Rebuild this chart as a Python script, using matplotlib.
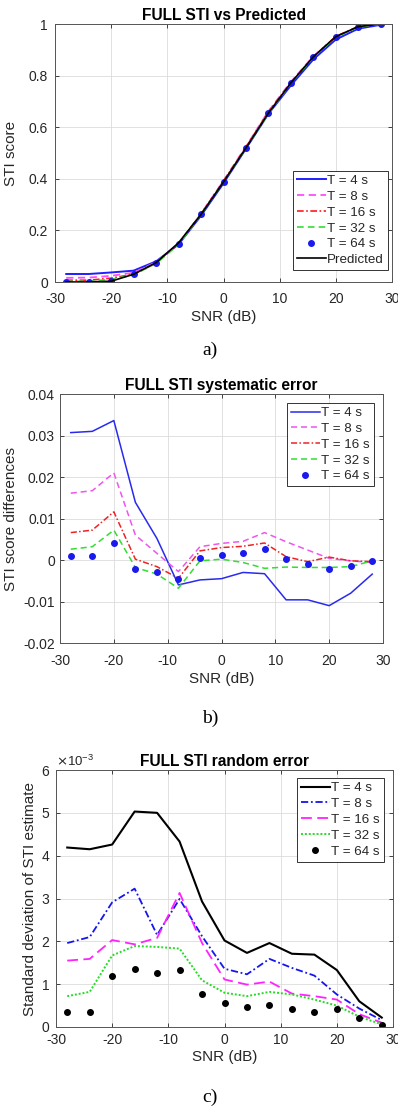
import matplotlib
matplotlib.use('Agg')
import matplotlib.pyplot as plt
from matplotlib.ticker import FuncFormatter, ScalarFormatter

plt.rcParams['font.family'] = ['Liberation Sans', 'DejaVu Sans']
plt.rcParams['axes.unicode_minus'] = False

# SNR en dB (eje x comun)
snr = [-28, -24, -20, -16, -12, -8, -4, 0, 4, 8, 12, 16, 20, 24, 28]

# a) STI completo vs predicho
sti_pred = [0.0, 0.0, 0.003, 0.030, 0.075, 0.152, 0.262, 0.388, 0.520, 0.655, 0.772, 0.873, 0.951, 0.990, 1.0]
sti_t4 = [0.031, 0.031, 0.037, 0.044, 0.080, 0.146, 0.257, 0.383, 0.517, 0.652, 0.762, 0.863, 0.940, 0.982, 0.997]
sti_t8 = [0.016, 0.017, 0.024, 0.036, 0.077, 0.149, 0.265, 0.392, 0.525, 0.662, 0.776, 0.875, 0.951, 0.990, 0.999]
sti_t16 = [0.007, 0.007, 0.015, 0.030, 0.073, 0.148, 0.264, 0.391, 0.523, 0.659, 0.773, 0.873, 0.952, 0.990, 1.0]
sti_t32 = [0.003, 0.003, 0.010, 0.028, 0.072, 0.145, 0.262, 0.388, 0.519, 0.653, 0.770, 0.871, 0.949, 0.988, 1.0]
sti_t64 = [0.001, 0.001, 0.005, 0.030, 0.073, 0.148, 0.263, 0.389, 0.521, 0.656, 0.772, 0.872, 0.949, 0.989, 1.0]

# b) error sistematico
sys_t4 = [0.0307, 0.0310, 0.0336, 0.0139, 0.0052, -0.0060, -0.0048, -0.0045, -0.0030, -0.0033, -0.0096, -0.0096, -0.0110, -0.0080, -0.0034]
sys_t8 = [0.0161, 0.0167, 0.0210, 0.0060, 0.0016, -0.0028, 0.0032, 0.0040, 0.0045, 0.0066, 0.0044, 0.0024, 0.0004, -0.0002, -0.0006]
sys_t16 = [0.0066, 0.0072, 0.0116, 0.0002, -0.0016, -0.0044, 0.0022, 0.0030, 0.0033, 0.0041, 0.0008, -0.0004, 0.0007, -0.0002, -0.0004]
sys_t32 = [0.0026, 0.0032, 0.0072, -0.0018, -0.0034, -0.0068, -0.0002, 0.0002, -0.0006, -0.0020, -0.0017, -0.0018, -0.0018, -0.0016, -0.0002]
sys_t64 = [0.0010, 0.0010, 0.0040, -0.0022, -0.0030, -0.0045, 0.0006, 0.0012, 0.0016, 0.0026, 0.0002, -0.0010, -0.0022, -0.0014, -0.0002]

# c) error aleatorio (desviacion estandar)
rnd_t4 = [4.19e-3, 4.15e-3, 4.26e-3, 5.03e-3, 5.00e-3, 4.33e-3, 2.93e-3, 2.02e-3, 1.73e-3, 1.96e-3, 1.71e-3, 1.69e-3, 1.33e-3, 0.60e-3, 0.22e-3]
rnd_t8 = [1.96e-3, 2.10e-3, 2.91e-3, 3.23e-3, 2.15e-3, 2.99e-3, 2.12e-3, 1.36e-3, 1.23e-3, 1.59e-3, 1.38e-3, 1.20e-3, 0.76e-3, 0.43e-3, 0.16e-3]
rnd_t16 = [1.55e-3, 1.59e-3, 2.03e-3, 1.93e-3, 2.08e-3, 3.13e-3, 1.96e-3, 1.11e-3, 0.99e-3, 1.06e-3, 0.78e-3, 0.72e-3, 0.64e-3, 0.30e-3, 0.10e-3]
rnd_t32 = [0.72e-3, 0.82e-3, 1.67e-3, 1.89e-3, 1.87e-3, 1.83e-3, 1.09e-3, 0.80e-3, 0.72e-3, 0.82e-3, 0.76e-3, 0.64e-3, 0.50e-3, 0.24e-3, 0.06e-3]
rnd_t64 = [0.34e-3, 0.36e-3, 1.20e-3, 1.36e-3, 1.27e-3, 1.34e-3, 0.77e-3, 0.56e-3, 0.46e-3, 0.52e-3, 0.42e-3, 0.34e-3, 0.43e-3, 0.21e-3, 0.05e-3]

W, H = 398, 1108
GRIS = '#262626'


def ejes(x0, y0, x1, y1):
    # posicion en pixeles (arriba-izquierda) -> fraccion de figura
    return fig.add_axes([x0 / W, 1 - y1 / H, (x1 - x0) / W, (y1 - y0) / H])


def estilo(ax, titulo, ylabel, xpad, ypad, xlab_y, ylab_x):
    ax.set_xlim(-30, 30)
    ax.set_xticks([-30, -20, -10, 0, 10, 20, 30])
    ax.grid(True, color='#dcdcdc', linewidth=0.6)
    ax.set_axisbelow(True)
    ax.tick_params(direction='in', top=True, right=True, labelsize=10,
                   colors=GRIS, length=3, width=0.6)
    ax.tick_params(axis='x', pad=xpad)
    ax.tick_params(axis='y', pad=ypad)
    for s in ax.spines.values():
        s.set_color('#555555')
        s.set_linewidth(0.7)
    ax.set_title(titulo, fontsize=11.2, fontweight='bold', pad=3, color='black')
    ax.set_xlabel('SNR (dB)', fontsize=11, color=GRIS)
    ax.set_ylabel(ylabel, fontsize=11, color=GRIS)
    ax.xaxis.set_label_coords(0.5, xlab_y)
    ax.yaxis.set_label_coords(ylab_x, 0.5)


def leyenda(ax, loc, anchor):
    leg = ax.legend(loc=loc, bbox_to_anchor=anchor, fontsize=9.6, handlelength=2.2,
                    handletextpad=0.1, labelspacing=0.26, borderpad=0.3,
                    borderaxespad=0, fancybox=False, framealpha=1)
    leg.get_frame().set_edgecolor('#333333')
    leg.get_frame().set_linewidth(0.7)
    for t in leg.get_texts():
        t.set_color(GRIS)


fig = plt.figure(figsize=(W / 100, H / 100), dpi=100)
fmt = FuncFormatter(lambda v, p: '%g' % round(v, 6))

# ---- a) ----
ax = ejes(55, 24, 392, 282)
ax.plot(snr, sti_t4, color='#1f1fff', lw=1.4, label='T = 4 s')
ax.plot(snr, sti_t8, color='#ff4dff', lw=1.3, ls=(0, (4, 2.5)), label='T = 8 s')
ax.plot(snr, sti_t16, color='#ff1a1a', lw=1.2, ls=(0, (4, 1.5, 1, 1.5)), label='T = 16 s')
ax.plot(snr, sti_t32, color='#33dd33', lw=1.2, ls=(0, (4, 2.5)), label='T = 32 s')
ax.plot(snr, sti_t64, 'o', color='#1a1aee', ms=4, label='T = 64 s')
ax.plot(snr, sti_pred, color='black', lw=1.2, label='Predicted')
ax.set_ylim(0, 1)
ax.set_yticks([0, 0.2, 0.4, 0.6, 0.8, 1])
ax.yaxis.set_major_formatter(fmt)
estilo(ax, 'FULL STI vs Predicted', 'STI score', 7, 5, -0.108, -0.11)
leyenda(ax, 'lower right', (0.988, 0.046))

# ---- b) ----
ax = ejes(60, 394, 383, 643)
ax.plot(snr, sys_t4, color='#2a2aee', lw=1.1, label='T = 4 s')
ax.plot(snr, sys_t8, color='#ee55ee', lw=1.1, ls=(0, (4, 2.5)), label='T = 8 s')
ax.plot(snr, sys_t16, color='#ee2222', lw=1.1, ls=(0, (4, 1.5, 1, 1.5)), label='T = 16 s')
ax.plot(snr, sys_t32, color='#33dd33', lw=1.1, ls=(0, (4, 2.5)), label='T = 32 s')
ax.plot(snr, sys_t64, 'o', color='#1a1aee', ms=4, label='T = 64 s')
ax.set_ylim(-0.02, 0.04)
ax.set_yticks([-0.02, -0.01, 0, 0.01, 0.02, 0.03, 0.04])
ax.yaxis.set_major_formatter(fmt)
estilo(ax, 'FULL STI systematic error', 'STI score differences', 8, 3.6, -0.116, -0.13)
leyenda(ax, 'upper right', (0.972, 0.964))

# ---- c) ----
ax = ejes(56, 770, 393, 1027)
ax.plot(snr, rnd_t4, color='black', lw=1.5, label='T = 4 s')
ax.plot(snr, rnd_t8, color='#1515ee', lw=1.3, ls=(0, (4, 1.5, 1, 1.5)), label='T = 8 s')
ax.plot(snr, rnd_t16, color='#ff22ff', lw=1.3, ls=(0, (6, 3)), label='T = 16 s')
ax.plot(snr, rnd_t32, color='#22dd22', lw=1.4, ls=(0, (1, 1)), label='T = 32 s')
ax.plot(snr, rnd_t64, 'o', color='black', ms=4, label='T = 64 s')
ax.set_ylim(0, 6e-3)
ax.set_yticks([0, 1e-3, 2e-3, 3e-3, 4e-3, 5e-3, 6e-3])
sf = ScalarFormatter(useMathText=True)
sf.set_powerlimits((-3, -3))
ax.yaxis.set_major_formatter(sf)
ax.yaxis.get_offset_text().set_fontsize(9.5)
ax.yaxis.get_offset_text().set_color(GRIS)
estilo(ax, 'FULL STI random error', 'Standard deviation of STI estimate', 4.5, 4.3, -0.09, -0.056)
leyenda(ax, 'upper right', (0.973, 0.969))

# etiquetas de subfigura
for letra, yc in [('a)', 350), ('b)', 718), ('c)', 1097)]:
    fig.text(210 / W, 1 - yc / H, letra, family='Liberation Serif', fontsize=14,
             ha='center', va='center')

fig.savefig('out.png', dpi=100)
